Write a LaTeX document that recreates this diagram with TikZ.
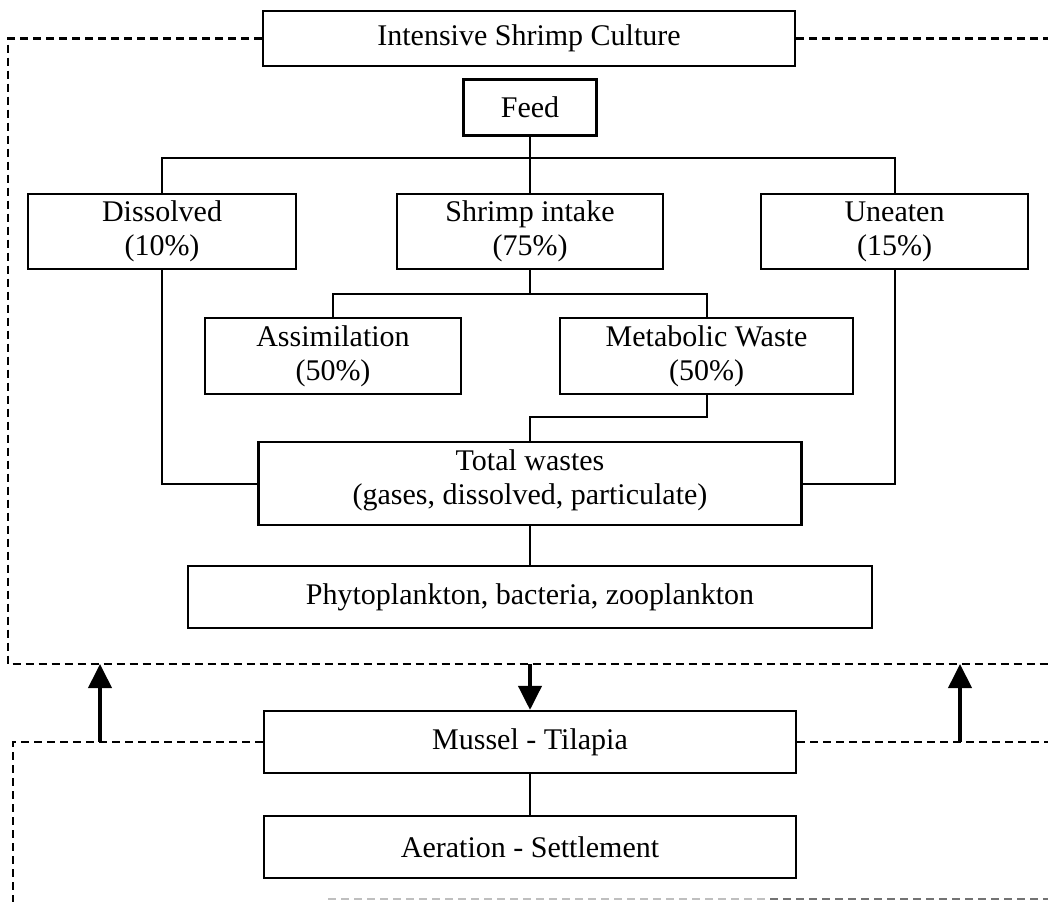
\documentclass[tikz,border=0pt]{standalone}
\usepackage{fontspec}
\setmainfont{Liberation Serif}
\usetikzlibrary{arrows.meta}
\begin{document}
\begin{tikzpicture}[x=1pt,y=-1pt,
  box/.style={draw,line width=2.2pt,inner sep=0pt,align=center,
    font=\fontsize{30}{34}\selectfont},
  link/.style={line width=2pt},
  frame/.style={line width=2.2pt,dash pattern=on 8pt off 5pt},
  bigarrow/.style={line width=4pt,-{Triangle[width=23pt,length=24pt]}}]
\useasboundingbox (0,0) rectangle (1048,902);
% boxes
\node[box,minimum width=532pt,minimum height=55pt] (culture) at (529,38.5) {Intensive Shrimp Culture};
\node[box,minimum width=133pt,minimum height=56pt] (feed) at (530,107.5) {Feed};
\node[box,minimum width=268pt,minimum height=75pt] (diss) at (162,231.5) {Dissolved\\(10\%)};
\node[box,minimum width=266pt,minimum height=75pt] (intake) at (530,231.5) {Shrimp intake\\(75\%)};
\node[box,minimum width=267pt,minimum height=75pt] (uneaten) at (894.5,231.5) {Uneaten\\(15\%)};
\node[box,minimum width=256pt,minimum height=76pt] (assim) at (333,356) {Assimilation\\(50\%)};
\node[box,minimum width=293pt,minimum height=76pt] (metab) at (706.5,356) {Metabolic Waste\\(50\%)};
\node[box,minimum width=543pt,minimum height=83pt,text depth=12pt] (total) at (530,483.5) {Total wastes\\(gases, dissolved, particulate)};
\node[box,minimum width=684pt,minimum height=62pt] (phyto) at (530,597) {Phytoplankton, bacteria, zooplankton};
\node[box,minimum width=532pt,minimum height=62pt] (mussel) at (530,742) {Mussel - Tilapia};
\node[box,minimum width=532pt,minimum height=62pt] (aer) at (530,847) {Aeration - Settlement};
% tree connectors
\draw[link] (feed.south) -- (530,158);
\draw[link] (diss.north) |- (530,158) -| (uneaten.north);
\draw[link] (530,158) -- (intake.north);
\draw[link] (intake.south) -- (530,294);
\draw[link] (assim.north) |- (530,294) -| (metab.north);
\draw[link] (metab.south) -- (706.5,417) -| (total.north);
\draw[link] (diss.south) |- (total.west);
\draw[link] (uneaten.south) |- (total.east);
\draw[link] (total.south) -- (phyto.north);
\draw[link] (mussel.south) -- (aer.north);
% dashed frames
\coordinate (ftl) at (8,38.5);
\coordinate (fbl) at (8,664);
\coordinate (fbr) at (1048,664);
\coordinate (ftr) at (1048,38.5);
\draw[frame] (culture.west) -- (ftl) -- (fbl) -- (fbr);
\draw[frame] (culture.east) -- (ftr);
\coordinate (gtl) at (13,742);
\coordinate (gbl) at (13,902);
\coordinate (gtr) at (1048,742);
\draw[frame] (mussel.west) -- (gtl) -- (gbl);
\draw[frame] (mussel.east) -- (gtr);
\coordinate (b1) at (328,899);
\coordinate (b2) at (770,899);
\coordinate (b3) at (1048,899);
\draw[frame,line width=1.4pt,black!25] (b1) -- (b2);
\draw[frame,line width=1.4pt,black!55] (b2) -- (b3);
% arrows
\coordinate (a1s) at (100,742);
\coordinate (a1e) at (100,664);
\coordinate (a2s) at (960,742);
\coordinate (a2e) at (960,664);
\coordinate (a3s) at (530,664);
\draw[bigarrow] (a1s) -- (a1e);
\draw[bigarrow] (a2s) -- (a2e);
\draw[bigarrow] (a3s) -- (mussel.north);
\end{tikzpicture}
\end{document}
